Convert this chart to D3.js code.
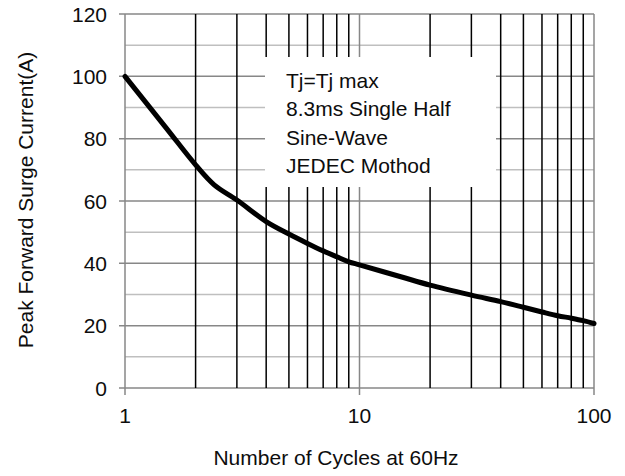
<!DOCTYPE html>
<html><head><meta charset="utf-8">
<script src="https://cdn.jsdelivr.net/npm/d3@7"></script>
<style>body{margin:0;background:#fff}svg{display:block}text{font-family:"Liberation Sans",Arial,sans-serif;fill:#0d0d0d}</style>
</head><body><svg id="c" width="625" height="476"></svg>
<script>
const cycles = [1, 1.5, 2, 2.4, 3, 4, 5, 6, 7, 8, 9, 10, 15, 20, 30, 40, 50, 60, 70, 80, 90, 100];
const current = [100, 83.4, 71.6, 65.2, 60.3, 53.4, 49.4, 46.4, 44, 42.1, 40.5, 39.5, 35.7, 33, 29.8, 27.7, 25.9, 24.4, 23.2, 22.4, 21.6, 20.7];
const yTicks = [0, 20, 40, 60, 80, 100, 120];
const yMinor = [10, 30, 50, 70, 90, 110];
const xTicks = [1, 10, 100];
const xMinor = [2, 3, 4, 5, 6, 7, 8, 9, 20, 30, 40, 50, 60, 70, 80, 90];
const noteLines = ["Tj=Tj max", "8.3ms Single Half", "Sine-Wave", "JEDEC Mothod"];
const xTitle = "Number of Cycles at 60Hz";
const yTitle = "Peak Forward Surge Current(A)";

const svg = d3.select("#c");
const L = 125, R = 594, T = 14, B = 388;
const x = d3.scaleLog().domain([1, 100]).range([L, R]);
const y = d3.scaleLinear().domain([0, 120]).range([B, T]);
const fs = 21;

svg.append("g").selectAll("line").data(yMinor).join("line")
  .attr("x1", L).attr("x2", R).attr("y1", d => y(d)).attr("y2", d => y(d))
  .attr("stroke", "#bfbfbf").attr("stroke-width", 1.5);
svg.append("g").selectAll("line").data(yTicks).join("line")
  .attr("x1", L - 6).attr("x2", R).attr("y1", d => y(d)).attr("y2", d => y(d))
  .attr("stroke", "#878787").attr("stroke-width", 1.5);
svg.append("g").selectAll("line").data(xMinor).join("line")
  .attr("x1", d => x(d)).attr("x2", d => x(d)).attr("y1", T).attr("y2", B)
  .attr("stroke", "#000").attr("stroke-width", 1.5);
svg.append("g").selectAll("line").data(xTicks).join("line")
  .attr("x1", d => x(d)).attr("x2", d => x(d)).attr("y1", T).attr("y2", B + 7)
  .attr("stroke", "#878787").attr("stroke-width", 1.5);

svg.append("rect").attr("x", 265).attr("y", 57).attr("width", 231).attr("height", 130).attr("fill", "#fff");
svg.append("g").selectAll("text").data(noteLines).join("text")
  .attr("x", 286).attr("y", (d, i) => 87.5 + i * 28.5)
  .attr("font-size", fs).text(d => d);

const line = d3.line().x((d, i) => x(cycles[i])).y(d => y(d)).curve(d3.curveCatmullRom.alpha(0.5));
svg.append("path").datum(current).attr("d", line)
  .attr("fill", "none").attr("stroke", "#000").attr("stroke-width", 5)
  .attr("stroke-linecap", "round").attr("stroke-linejoin", "round");

svg.append("g").selectAll("text").data(yTicks).join("text")
  .attr("x", 107).attr("y", d => y(d)).attr("dy", "0.36em")
  .attr("text-anchor", "end").attr("font-size", fs).text(d => d);
svg.append("g").selectAll("text").data(xTicks).join("text")
  .attr("x", d => x(d)).attr("y", 423)
  .attr("text-anchor", "middle").attr("font-size", fs).text(d => d);

svg.append("text").attr("x", 336).attr("y", 465).attr("text-anchor", "middle")
  .attr("font-size", fs).text(xTitle);
svg.append("text").attr("transform", "translate(33,200) rotate(-90)")
  .attr("text-anchor", "middle").attr("font-size", fs).text(yTitle);
</script></body></html>
